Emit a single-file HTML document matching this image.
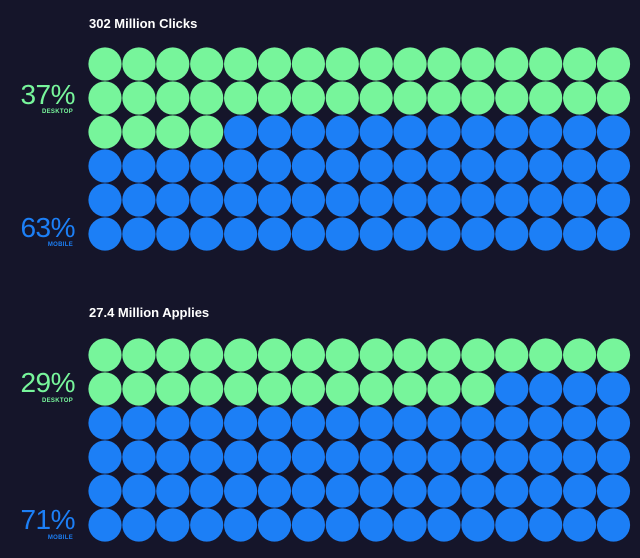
<!DOCTYPE html><html><head><style>
body{margin:0;width:640px;height:558px;background:#15152a;position:relative;overflow:hidden;font-family:"Liberation Sans",sans-serif}
.t{position:absolute;left:89px;color:#fff;font-weight:bold;font-size:13px}
.p{position:absolute;right:565px;font-size:28px;font-weight:300;letter-spacing:-0.5px;line-height:28px}
.s{position:absolute;right:567px;font-size:6px;font-weight:bold;letter-spacing:0.3px}
.g{color:#77f59b}.b{color:#1c7ff6}
</style></head><body>
<div class="t" style="top:16px">302 Million Clicks</div>
<div class="t" style="top:305px">27.4 Million Applies</div>
<div class="p g" style="top:81px">37%</div><div class="s g" style="top:109px">DESKTOP</div>
<div class="p b" style="top:214px">63%</div><div class="s b" style="top:242px">MOBILE</div>
<div class="p g" style="top:369px">29%</div><div class="s g" style="top:398px">DESKTOP</div>
<div class="p b" style="top:506px">71%</div><div class="s b" style="top:535px">MOBILE</div>
<svg width="640" height="558" style="position:absolute;left:0;top:0" id="s"></svg>
<script>
var s=document.getElementById('s'),h='';
function grid(y0,n){for(var r=0;r<6;r++)for(var c=0;c<16;c++){var i=r*16+c;h+='<circle cx="'+(105+c*33.9)+'" cy="'+(y0+17+r*34)+'" r="16.6" fill="'+(i<n?'#77f59b':'#1c7ff6')+'"/>';}}
grid(47,36);grid(338,28);s.innerHTML=h;
</script>
</body></html>
